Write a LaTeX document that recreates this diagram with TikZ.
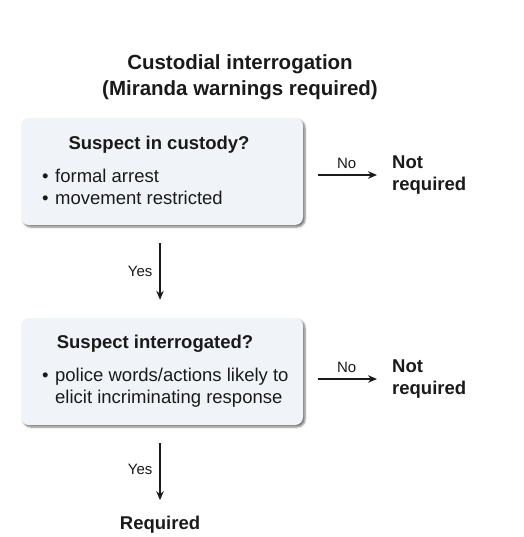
\documentclass[tikz,border=0pt]{standalone}
\usepackage{fontspec}
\setmainfont{Liberation Sans}
\usepackage{tikz}
\usetikzlibrary{arrows.meta,positioning,shadows.blur}
\usepackage{xcolor}
\definecolor{boxfill}{HTML}{F0F4F8}
\definecolor{ink}{HTML}{1A1A1A}

\begin{document}
\begin{tikzpicture}[x=1pt, y=-1pt,
    every node/.style={text=ink, inner sep=2pt},
    headline/.style={font=\fontsize{20.5}{25.5}\selectfont\bfseries, align=center},
    question/.style={font=\fontsize{18.5}{22}\selectfont\bfseries},
    detail/.style={font=\fontsize{18.5}{22}\selectfont, align=left, anchor=west},
    outcome/.style={font=\fontsize{18.5}{22}\selectfont\bfseries, align=left},
    answer/.style={font=\fontsize{15}{18}\selectfont},
    panel/.style={rectangle, rounded corners=8pt, fill=boxfill,
      minimum width=282pt, minimum height=107pt,
      blur shadow={shadow xshift=2pt, shadow yshift=-2pt, shadow blur radius=2pt, shadow opacity=55}},
    flow/.style={draw=ink, line width=1.3pt, -{Stealth[length=9pt, width=7.5pt]}}]

  \useasboundingbox (0,0) rectangle (523,537);

  \node[headline] (title) at (240,77) {Custodial interrogation\\(Miranda warnings required)};

  % first test
  \node[panel] (custody) at (162,171.5) {};
  \node[question] at (159,145) {Suspect in custody?};
  \node[detail] at (40,189) {\begin{tabular}{@{}l@{\hspace{6.5pt}}l@{}}\textbullet & formal arrest\\ \textbullet & movement restricted\end{tabular}};
  \node[outcome, anchor=west] (notreq1) at (390,175) {Not\\required};

  % second test
  \node[panel] (interrog) at (162,371.5) {};
  \node[question] at (155,344) {Suspect interrogated?};
  \node[detail] at (40,388) {\begin{tabular}{@{}l@{\hspace{6.5pt}}l@{}}\textbullet & police words/actions likely to\\ & elicit incriminating response\end{tabular}};
  \node[outcome, anchor=west] (notreq2) at (390,379) {Not\\required};

  \node[outcome] (required) at (160,525) {Required};

  \draw[flow, shorten <=15pt, shorten >=13pt] (custody.east |- notreq1.west) -- node[answer, above=4pt] {No} (notreq1.west);
  \draw[flow, shorten <=15pt, shorten >=13pt] (interrog.east |- notreq2.west) -- node[answer, above=4pt] {No} (notreq2.west);
  \draw[flow, shorten <=18pt, shorten >=18pt] (custody.south -| required.north) -- node[answer, left=5pt] {Yes} (interrog.north -| required.north);
  \draw[flow, shorten <=18pt, shorten >=14pt] (interrog.south -| required.north) -- node[answer, left=5pt] {Yes} (required.north);

\end{tikzpicture}
\end{document}
